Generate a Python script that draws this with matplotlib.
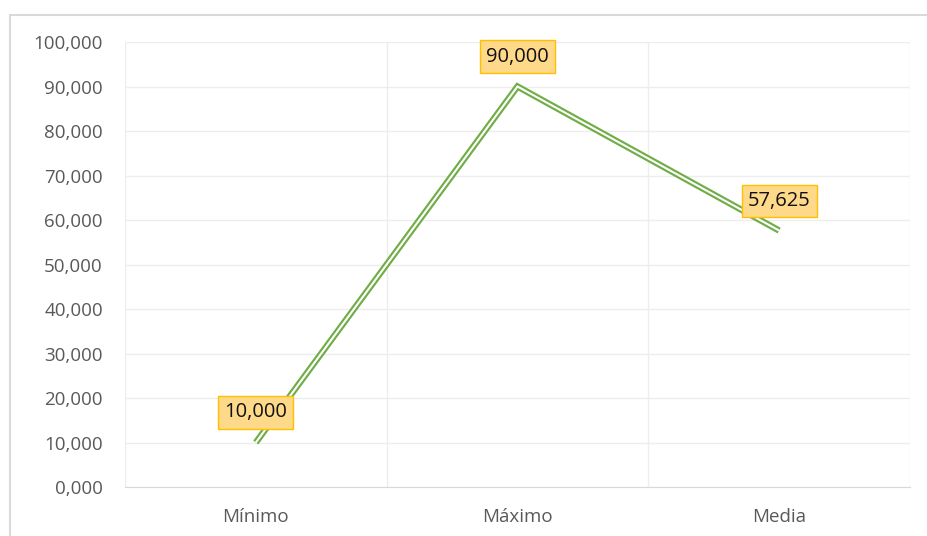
import matplotlib.pyplot as plt
from matplotlib.patches import Rectangle
from matplotlib.ticker import FuncFormatter, MultipleLocator

# valores del gráfico
categorias = ["Mínimo", "Máximo", "Media"]
valores = [10, 90, 57.625]
etiquetas = ["10,000", "90,000", "57,625"]

plt.rcParams["font.family"] = ["Open Sans", "DejaVu Sans"]

fig = plt.figure(figsize=(9.28, 5.36), dpi=100)
ax = fig.add_axes([125 / 928, 1 - 487 / 536, (910 - 125) / 928, (487 - 42) / 536])

# borde exterior del área del gráfico
fig.patches.append(Rectangle((10 / 928, -0.2), 2, 0.2 + 1 - 15 / 536,
                             transform=fig.transFigure, fill=False,
                             edgecolor="#D9D9D9", linewidth=1.5))

x = list(range(len(categorias)))
# línea doble: verde gruesa con una blanca fina encima
ax.plot(x, valores, color="#70AD47", linewidth=4.6, solid_joinstyle="miter",
        solid_capstyle="butt", zorder=3)
ax.plot(x, valores, color="white", linewidth=1.5, solid_joinstyle="miter",
        solid_capstyle="butt", zorder=4)

for xi, v, t in zip(x, valores, etiquetas):
    ax.annotate(t, (xi, v), xytext=(0, 30), textcoords="offset pixels",
                ha="center", va="center", fontsize=14.5, color="#111111", zorder=5,
                bbox=dict(boxstyle="square,pad=0.3", facecolor="#FFD98A", edgecolor="#FFC000", linewidth=1))

ax.set_xlim(-0.5, 2.5)
ax.set_ylim(0, 100)
ax.yaxis.set_major_locator(MultipleLocator(10))
ax.yaxis.set_major_formatter(FuncFormatter(lambda v, p: f"{v:.3f}".replace(".", ",")))
ax.set_xticks(x)
ax.set_xticklabels(categorias)
ax.set_xticks([-0.5, 0.5, 1.5, 2.5], minor=True)

ax.grid(axis="y", which="major", color="#EDEDED", linewidth=1)
ax.grid(axis="x", which="minor", color="#EDEDED", linewidth=1)
ax.set_axisbelow(True)
for s in ["top", "right", "left"]:
    ax.spines[s].set_visible(False)
ax.spines["bottom"].set_color("#D9D9D9")
ax.tick_params(axis="both", which="both", length=0, labelsize=13.5, colors="#595959")
ax.tick_params(axis="x", pad=15)
ax.tick_params(axis="y", pad=16)

fig.savefig("out.png", dpi=100)
